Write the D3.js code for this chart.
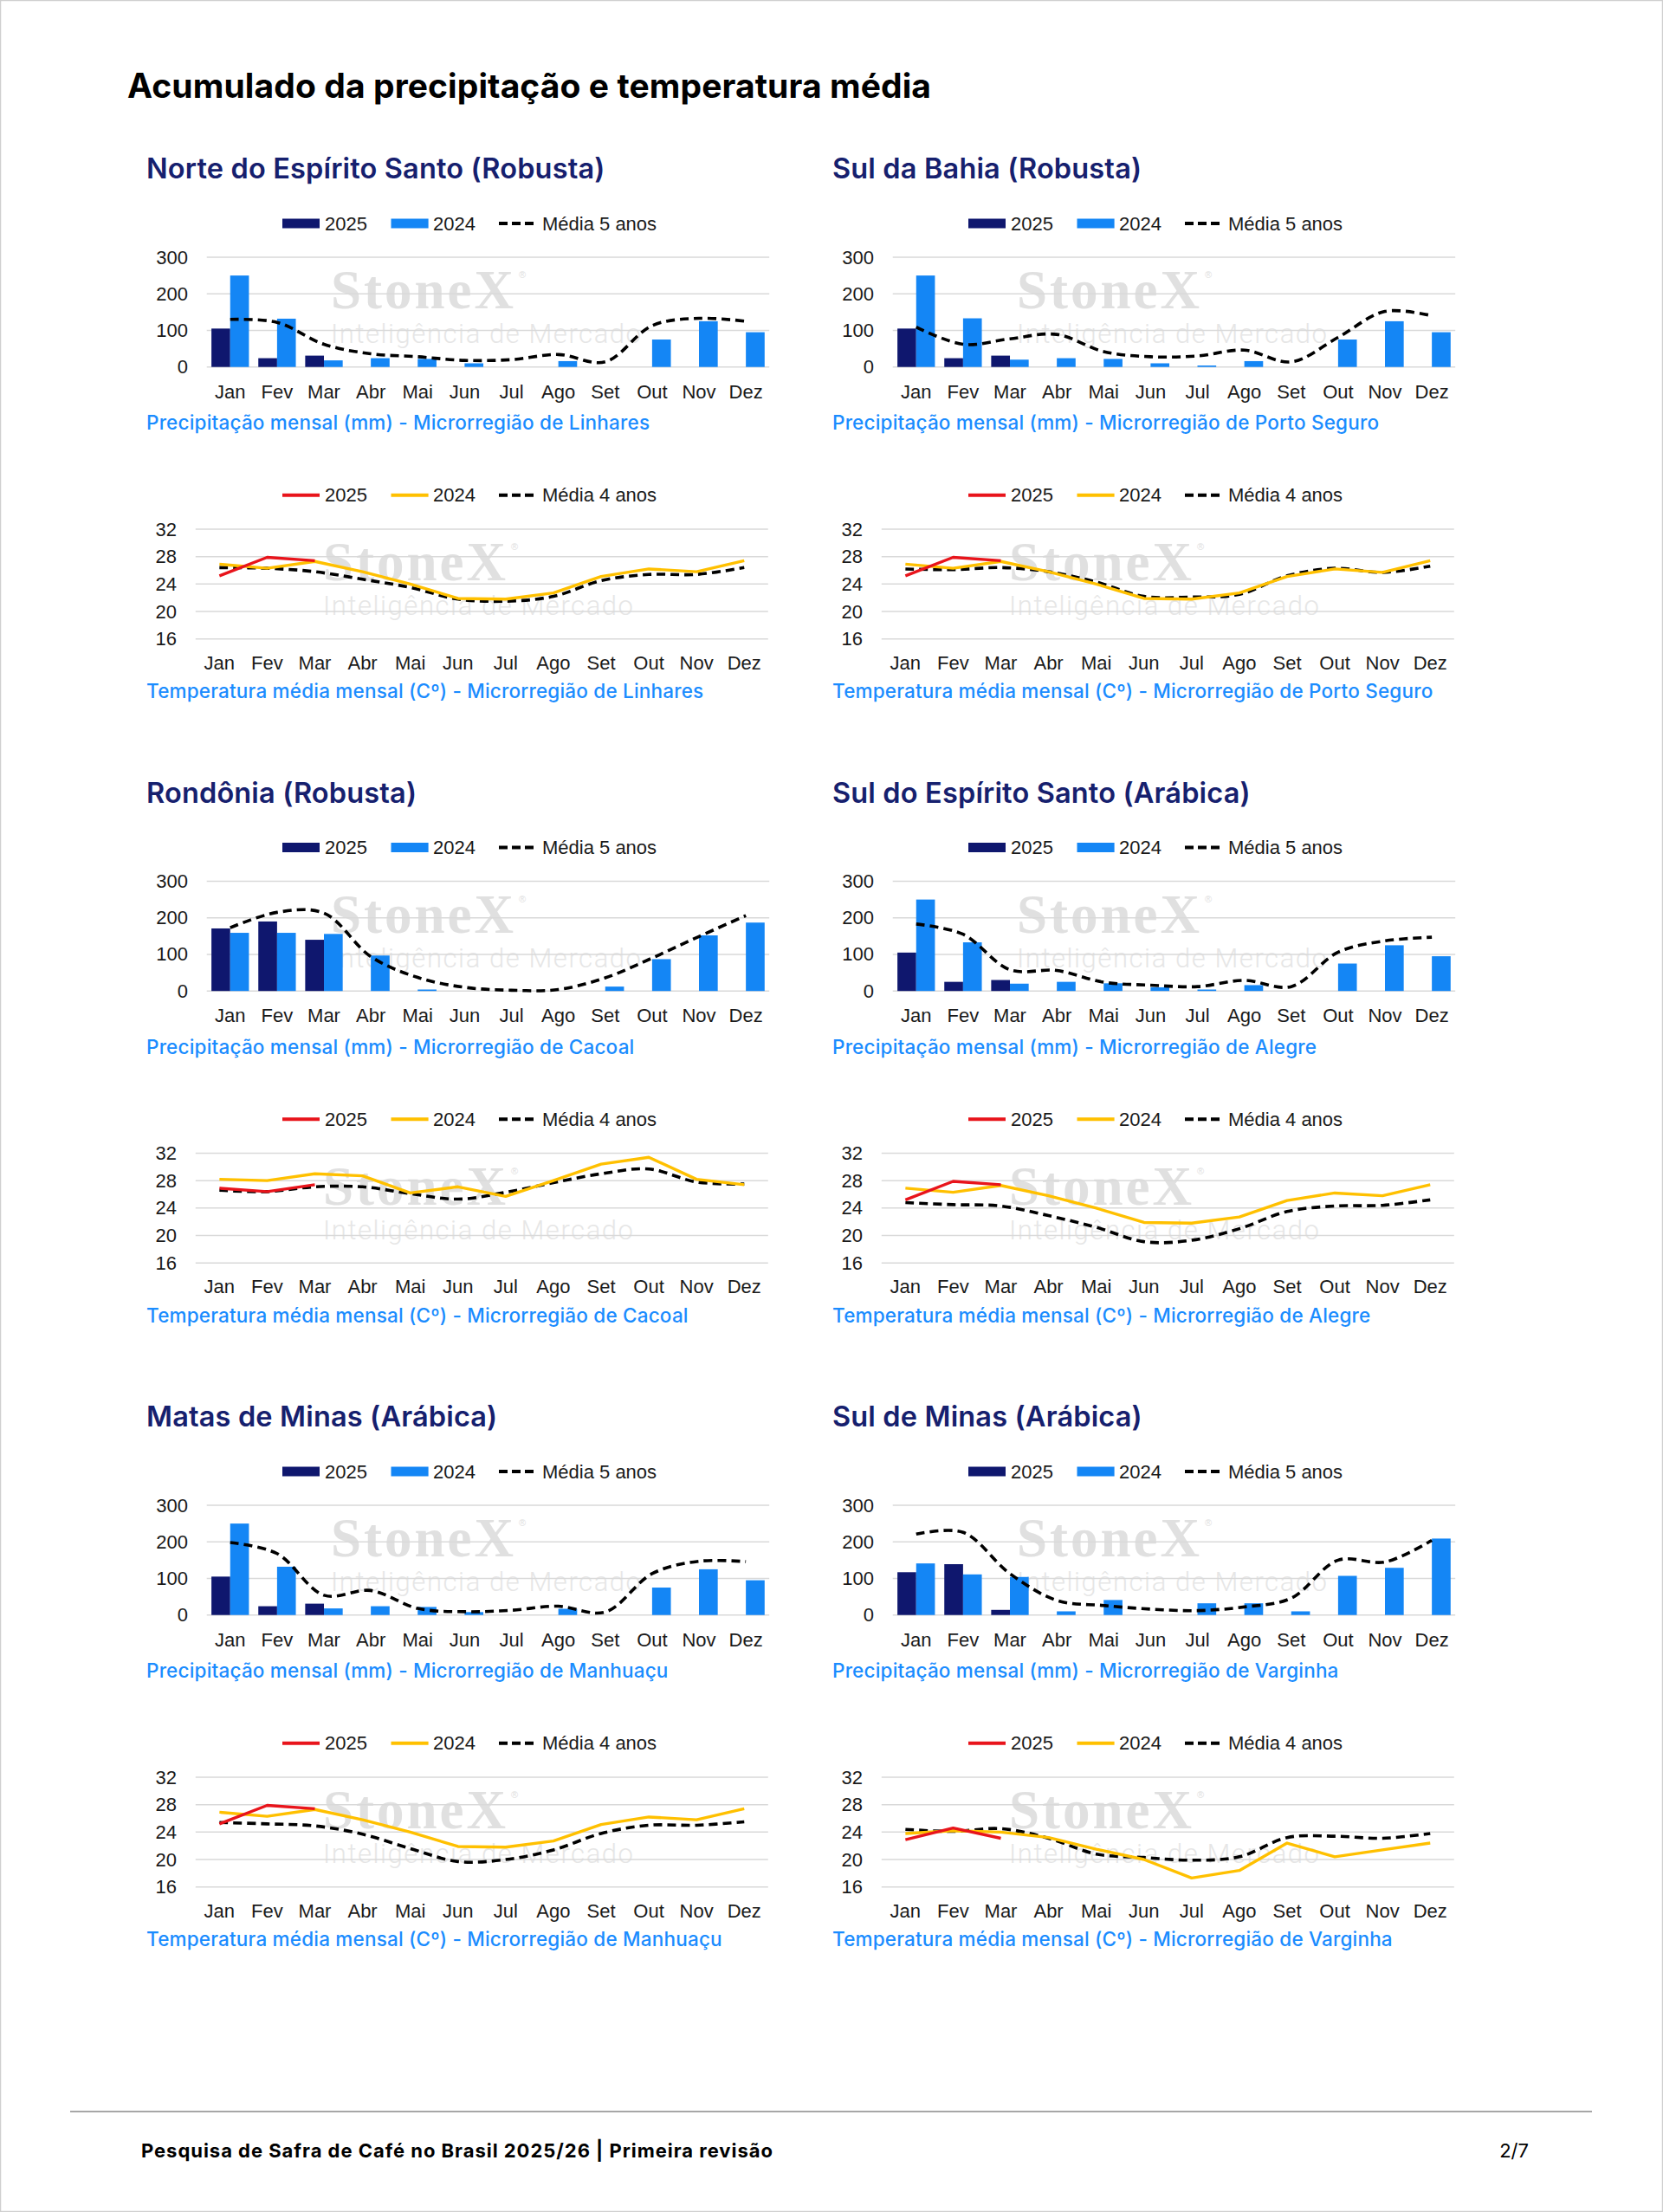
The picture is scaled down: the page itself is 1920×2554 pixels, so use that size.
<!DOCTYPE html>
<html><head><meta charset="utf-8">
<script src="https://cdn.jsdelivr.net/npm/d3@7"></script>
<style>body{margin:0;background:#fff}svg{display:block}</style>
</head><body>
<svg id="c" width="1920" height="2554"></svg>
<script>
// ---------- DATA ----------
const months = ["Jan","Fev","Mar","Abr","Mai","Jun","Jul","Ago","Set","Out","Nov","Dez"];
const precTicks = [0,100,200,300];
const tempTicks = [16,20,24,28,32];
const mainTitle = "Acumulado da precipitação e temperatura média";
const sectionTitles = ["Norte do Espírito Santo (Robusta)","Sul da Bahia (Robusta)","Rondônia (Robusta)","Sul do Espírito Santo (Arábica)","Matas de Minas (Arábica)","Sul de Minas (Arábica)"];
const microregions = ["Linhares","Porto Seguro","Cacoal","Alegre","Manhuaçu","Varginha"];
const precLegend = ["2025","2024","Média 5 anos"];
const tempLegend = ["2025","2024","Média 4 anos"];
const footerText = "Pesquisa de Safra de Café no Brasil 2025/26 | Primeira revisão";
const pageText = "2/7";

// precipitation (mm)
const linharesPrec2025 = [105,24,31,null,null,null,null,null,null,null,null,null];
const linharesPrec2024 = [250,132,18,24,22,10,null,16,null,75,125,95];
const linharesPrecAvg  = [130,122,62,36,28,18,20,34,14,113,133,125];
const portoPrec2025 = [105,24,31,null,null,null,null,null,null,null,null,null];
const portoPrec2024 = [250,133,20,24,22,10,4,16,null,75,125,95];
const portoPrecAvg  = [109,62,77,89,42,28,30,46,14,81,152,140];
const cacoalPrec2025 = [171,190,140,null,null,null,null,null,null,null,null,null];
const cacoalPrec2024 = [159,159,156,97,4,null,null,null,12,87,152,187];
const cacoalPrecAvg  = [173,215,213,94,37,10,2,4,36,90,149,206];
const alegrePrec2025 = [105,25,30,null,null,null,null,null,null,null,null,null];
const alegrePrec2024 = [250,133,20,25,21,10,4,16,null,75,125,95];
const alegrePrecAvg  = [183,155,58,56,24,16,12,29,12,106,137,147];
const manhuacuPrec2025 = [105,24,31,null,null,null,null,null,null,null,null,null];
const manhuacuPrec2024 = [250,132,18,24,22,8,null,17,null,75,125,95];
const manhuacuPrecAvg  = [198,168,54,67,18,9,13,24,8,113,147,146];
const varginhaPrec2025 = [117,139,14,null,null,null,null,null,null,null,null,null];
const varginhaPrec2024 = [141,111,104,10,41,null,32,32,10,107,129,209];
const varginhaPrecAvg  = [221,226,113,40,26,16,12,22,46,150,145,204];

// mean temperature (°C)
const linharesTemp2025 = [25.2,27.9,27.4,null,null,null,null,null,null,null,null,null];
const linharesTemp2024 = [26.9,26.3,27.3,25.8,24.0,21.9,21.8,22.7,25.1,26.2,25.8,27.4];
const linharesTempAvg  = [26.4,26.3,25.8,24.7,23.5,21.8,21.5,22.2,24.5,25.4,25.4,26.4];
const portoTemp2025 = [25.2,27.9,27.4,null,null,null,null,null,null,null,null,null];
const portoTemp2024 = [26.9,26.3,27.3,25.8,24.0,21.9,21.8,22.7,25.1,26.2,25.7,27.4];
const portoTempAvg  = [26.2,26.1,26.4,25.8,24.3,22.2,22.1,22.5,25.2,26.3,25.7,26.6];
const cacoalTemp2025 = [26.9,26.4,27.4,null,null,null,null,null,null,null,null,null];
const cacoalTemp2024 = [28.2,28.0,29.0,28.7,26.2,27.1,25.7,28.0,30.4,31.4,28.2,27.4];
const cacoalTempAvg  = [26.6,26.4,27.1,27.1,26.1,25.3,26.3,27.7,29.0,29.7,27.8,27.5];
const alegreTemp2025 = [25.2,27.9,27.4,null,null,null,null,null,null,null,null,null];
const alegreTemp2024 = [26.9,26.3,27.3,25.8,24.0,21.9,21.8,22.7,25.1,26.2,25.8,27.4];
const alegreTempAvg  = [24.8,24.5,24.3,22.9,21.2,19.1,19.3,21.0,23.5,24.3,24.4,25.2];
const manhuacuTemp2025 = [25.2,27.9,27.4,null,null,null,null,null,null,null,null,null];
const manhuacuTemp2024 = [26.9,26.3,27.3,25.8,24.0,21.9,21.8,22.7,25.1,26.2,25.8,27.4];
const manhuacuTempAvg  = [25.4,25.2,24.9,23.7,21.6,19.7,20.0,21.4,23.8,25.0,25.0,25.5];
const varginhaTemp2025 = [22.9,24.6,23.1,null,null,null,null,null,null,null,null,null];
const varginhaTemp2024 = [23.8,24.2,24.0,23.2,21.5,20.0,17.3,18.4,22.4,20.4,21.4,22.4];
const varginhaTempAvg  = [24.4,24.1,24.5,23.1,20.8,20.3,19.9,20.4,23.2,23.4,23.1,23.8];

const precSets = [
  [linharesPrec2025,linharesPrec2024,linharesPrecAvg],
  [portoPrec2025,portoPrec2024,portoPrecAvg],
  [cacoalPrec2025,cacoalPrec2024,cacoalPrecAvg],
  [alegrePrec2025,alegrePrec2024,alegrePrecAvg],
  [manhuacuPrec2025,manhuacuPrec2024,manhuacuPrecAvg],
  [varginhaPrec2025,varginhaPrec2024,varginhaPrecAvg]
];
const tempSets = [
  [linharesTemp2025,linharesTemp2024,linharesTempAvg],
  [portoTemp2025,portoTemp2024,portoTempAvg],
  [cacoalTemp2025,cacoalTemp2024,cacoalTempAvg],
  [alegreTemp2025,alegreTemp2024,alegreTempAvg],
  [manhuacuTemp2025,manhuacuTemp2024,manhuacuTempAvg],
  [varginhaTemp2025,varginhaTemp2024,varginhaTempAvg]
];

// ---------- STYLE ----------
const C = {
  navy:"#0f176e", blue:"#1486f5", red:"#e8141b", gold:"#ffc000",
  title:"#16206e", sub:"#1a8cff", grid:"#d9d9d9", text:"#1a1a1a", wm:"#e0e0e0", wm2:"#e6e6e6"
};
const labelFont = "'Liberation Sans', Arial, sans-serif";
const headFont = "Inter, 'Noto Sans', sans-serif";

const svg = d3.select("#c");
svg.append("rect").attr("x",0.5).attr("y",0.5).attr("width",1919).attr("height",2553)
  .attr("fill","#fff").attr("stroke","#cfcfcf").attr("stroke-width",1.5);

function fitSpacing(node, target){
  node.setAttribute("letter-spacing",0);
  const L = node.getComputedTextLength();
  const n = node.textContent.length;
  return (target - L)/(n - 1);
}

// main title
const tNode = svg.append("text").attr("x",147).attr("y",113)
  .attr("font-family",headFont).attr("font-weight",700).attr("font-size",39)
  .attr("fill","#000").text(mainTitle).node();
tNode.setAttribute("letter-spacing", fitSpacing(tNode, 928));

// footer
svg.append("line").attr("x1",81).attr("x2",1838).attr("y1",2438).attr("y2",2438)
  .attr("stroke","#8a8a8a").attr("stroke-width",1.5);
const fNode = svg.append("text").attr("x",163).attr("y",2491)
  .attr("font-family",headFont).attr("font-weight",700).attr("font-size",22)
  .attr("fill","#000").text(footerText).node();
fNode.setAttribute("letter-spacing", fitSpacing(fNode, 729));
svg.append("text").attr("x",1765).attr("y",2491).attr("text-anchor","end")
  .attr("font-family",headFont).attr("font-size",22).attr("fill","#000").text(pageText);

const colDX = [0, 792];
const rowDY = [0, 720.5, 1441];

let titleSpacing = null, subSpacing = null;

function watermark(g, x, top){
  const s = g.append("text").attr("x",x).attr("y",top+59)
    .attr("font-family","'Liberation Serif', 'DejaVu Serif', serif").attr("font-weight",700)
    .attr("font-size",63).attr("fill",C.wm).text("StoneX");
  s.attr("letter-spacing", fitSpacing(s.node(), 211));
  g.append("text").attr("x",x+217).attr("y",top+24).attr("font-family","'Liberation Sans',sans-serif")
    .attr("font-size",11).attr("fill",C.wm).text("®");
  const t = g.append("text").attr("x",x).attr("y",top+99)
    .attr("font-family","Roboto, 'Open Sans', sans-serif").attr("font-weight",300)
    .attr("font-size",31).attr("fill",C.wm2).text("Inteligência de Mercado");
  t.attr("letter-spacing", fitSpacing(t.node(), 358));
}

function legend(g, y, labels, kinds){
  const sw = [[326,369],[451.5,494.6],[576,619]];
  const tx = [375,500,626];
  kinds.forEach((k,i)=>{
    if(k.type==="rect"){
      g.append("rect").attr("x",sw[i][0]).attr("y",y-5.5).attr("width",sw[i][1]-sw[i][0]).attr("height",11).attr("fill",k.color);
    } else {
      g.append("line").attr("x1",sw[i][0]).attr("x2",sw[i][1]).attr("y1",y).attr("y2",y)
        .attr("stroke",k.color).attr("stroke-width",4).attr("stroke-dasharray",k.dash||null);
    }
    g.append("text").attr("x",tx[i]).attr("y",y).attr("dominant-baseline","central")
      .attr("font-family",labelFont).attr("font-size",22).attr("fill",C.text).text(labels[i]);
  });
}

function subtitle(g, y, txt){
  const s = g.append("text").attr("x",169).attr("y",y)
    .attr("font-family",headFont).attr("font-weight",500).attr("font-size",22.5)
    .attr("fill",C.sub).text(txt);
  if(subSpacing===null) subSpacing = fitSpacing(s.node(), 581);
  s.attr("letter-spacing", subSpacing);
}

sectionTitles.forEach((title,i)=>{
  const col = i%2, row = Math.floor(i/2);
  const g = svg.append("g").attr("transform",`translate(${colDX[col]},${rowDY[row]})`);
  // section title
  const st = g.append("text").attr("x",169).attr("y",206)
    .attr("font-family",headFont).attr("font-weight",600).attr("font-size",32.5)
    .attr("fill",C.title).text(title);
  if(titleSpacing===null) titleSpacing = fitSpacing(st.node(), 529);
  st.attr("letter-spacing", titleSpacing);

  // ---------- precipitation chart ----------
  const [p25,p24,pAvg] = precSets[i];
  const px = d3.scaleBand().domain(months).range([238.7,888.2]).paddingInner(0.2).paddingOuter(0.1);
  const px1 = d3.scaleBand().domain(["2025","2024"]).range([0,px.bandwidth()]);
  const py = d3.scaleLinear().domain([0,300]).range([423.7,297]);
  watermark(g, 382, 297);
  g.append("g").selectAll("line").data(precTicks).join("line")
    .attr("x1",238.7).attr("x2",888.2).attr("y1",d=>py(d)).attr("y2",d=>py(d))
    .attr("stroke",C.grid).attr("stroke-width",1.5);
  g.append("g").selectAll("text").data(precTicks).join("text")
    .attr("x",217).attr("y",d=>py(d)).attr("text-anchor","end").attr("dominant-baseline","central")
    .attr("font-family",labelFont).attr("font-size",22).attr("fill",C.text).text(d=>d);
  const series = [{k:"2025",v:p25,c:C.navy},{k:"2024",v:p24,c:C.blue}];
  series.forEach(s=>{
    g.append("g").selectAll("rect").data(months.map((m,j)=>({m,v:s.v[j]})).filter(d=>d.v!=null)).join("rect")
      .attr("x",d=>px(d.m)+px1(s.k)).attr("width",px1.bandwidth())
      .attr("y",d=>py(d.v)).attr("height",d=>py(0)-py(d.v)).attr("fill",s.c);
  });
  const pLine = d3.line().x((d,j)=>px(months[j])+px.bandwidth()/2).y(d=>py(d)).curve(d3.curveCatmullRom.alpha(0.5));
  g.append("path").attr("d",pLine(pAvg)).attr("fill","none").attr("stroke","#000")
    .attr("stroke-width",3.6).attr("stroke-dasharray","10,6");
  g.append("g").selectAll("text").data(months).join("text")
    .attr("x",d=>px(d)+px.bandwidth()/2).attr("y",452).attr("text-anchor","middle").attr("dominant-baseline","central")
    .attr("font-family",labelFont).attr("font-size",22).attr("fill",C.text).text(d=>d);
  legend(g, 258, precLegend, [{type:"rect",color:C.navy},{type:"rect",color:C.blue},{type:"line",color:"#000",dash:"10,5"}]);
  subtitle(g, 496, `Precipitação mensal (mm) - Microrregião de ${microregions[i]}`);

  // ---------- temperature chart ----------
  const [t25,t24,tAvg] = tempSets[i];
  const tx = d3.scalePoint().domain(months).range([225.8,886.8]).padding(0.5);
  const ty = d3.scaleLinear().domain([16,32]).range([737.7,611]);
  watermark(g, 373, 611);
  g.append("g").selectAll("line").data(tempTicks).join("line")
    .attr("x1",225.8).attr("x2",886.8).attr("y1",d=>ty(d)).attr("y2",d=>ty(d))
    .attr("stroke",C.grid).attr("stroke-width",1.5);
  g.append("g").selectAll("text").data(tempTicks).join("text")
    .attr("x",204).attr("y",d=>ty(d)).attr("text-anchor","end").attr("dominant-baseline","central")
    .attr("font-family",labelFont).attr("font-size",22).attr("fill",C.text).text(d=>d);
  const tLine = d3.line().defined(d=>d!=null).x((d,j)=>tx(months[j])).y(d=>ty(d));
  const tAvgLine = d3.line().x((d,j)=>tx(months[j])).y(d=>ty(d)).curve(d3.curveCatmullRom.alpha(0.5));
  g.append("path").attr("d",tAvgLine(tAvg)).attr("fill","none").attr("stroke","#000")
    .attr("stroke-width",3.6).attr("stroke-dasharray","10,6");
  g.append("path").attr("d",tLine(t24)).attr("fill","none").attr("stroke",C.gold)
    .attr("stroke-width",3.4).attr("stroke-linejoin","round");
  g.append("path").attr("d",tLine(t25)).attr("fill","none").attr("stroke",C.red)
    .attr("stroke-width",3.4).attr("stroke-linejoin","round");
  g.append("g").selectAll("text").data(months).join("text")
    .attr("x",d=>tx(d)).attr("y",765).attr("text-anchor","middle").attr("dominant-baseline","central")
    .attr("font-family",labelFont).attr("font-size",22).attr("fill",C.text).text(d=>d);
  legend(g, 571.7, tempLegend, [{type:"line",color:C.red},{type:"line",color:C.gold},{type:"line",color:"#000",dash:"10,5"}]);
  subtitle(g, 806, `Temperatura média mensal (Cº) - Microrregião de ${microregions[i]}`);
});
</script>
</body></html>
